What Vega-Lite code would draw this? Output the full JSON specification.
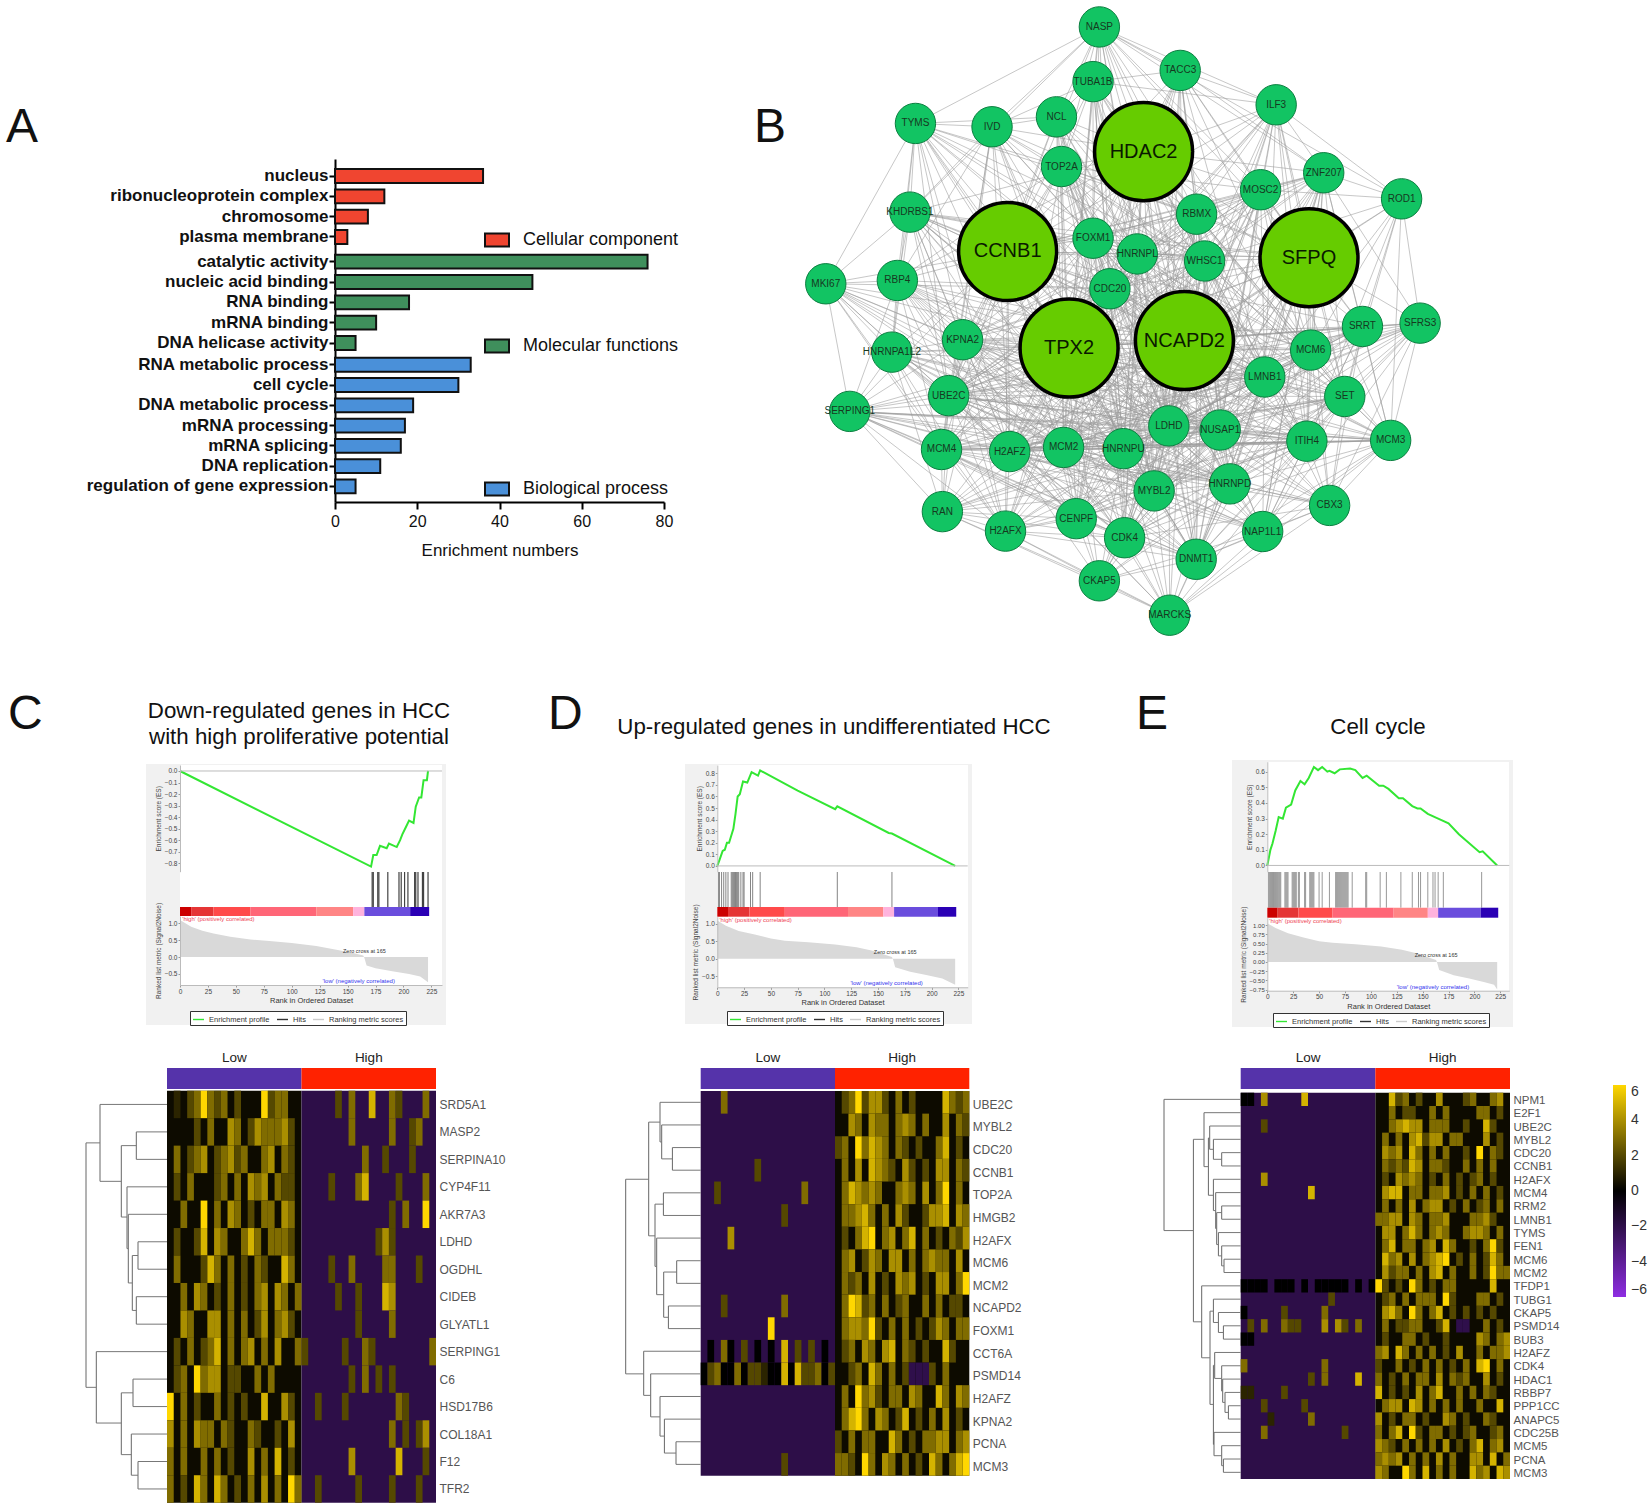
{"$schema":"https://vega.github.io/schema/vega-lite/v6.json","width":1650,"height":1511,"padding":0,"autosize":{"type":"none"},"background":"white","config":{"view":{"stroke":null},"font":"Liberation Sans"},"data":{"values":[{}]},
"resolve":{"scale":{"x":"independent","y":"independent","color":"independent"}},
"datasets":{
"cbar":[{"a":0,"b":10,"l":"1"},{"a":10,"b":30,"l":"2"},{"a":30,"b":63,"l":"3"},{"a":63,"b":122,"l":"4"},{"a":122,"b":155,"l":"5"},{"a":155,"b":165,"l":"6"},{"a":165,"b":206,"l":"7"},{"a":206,"b":223,"l":"8"}],
"nodes":[{"id":0,"n":"NASP","x":735,"y":65},{"id":1,"n":"TUBA1B","x":720,"y":197},{"id":2,"n":"TACC3","x":927,"y":170},{"id":3,"n":"ILF3","x":1155,"y":253},{"id":4,"n":"NCL","x":633,"y":282},{"id":5,"n":"IVD","x":480,"y":306},{"id":6,"n":"TYMS","x":298,"y":298},{"id":7,"n":"TOP2A","x":645,"y":402},{"id":8,"n":"HDAC2","x":840,"y":366,"hub":1},{"id":9,"n":"MOSC2","x":1118,"y":458},{"id":10,"n":"ZNF207","x":1268,"y":417},{"id":11,"n":"ROD1","x":1453,"y":480},{"id":12,"n":"KHDRBS1","x":285,"y":512},{"id":13,"n":"RBMX","x":966,"y":517},{"id":14,"n":"CCNB1","x":517,"y":607,"hub":1},{"id":15,"n":"FOXM1","x":720,"y":575},{"id":16,"n":"HNRNPL","x":825,"y":613},{"id":17,"n":"WHSC1","x":985,"y":630},{"id":18,"n":"SFPQ","x":1233,"y":622,"hub":1},{"id":19,"n":"MKI67","x":85,"y":685},{"id":20,"n":"RBP4","x":255,"y":677},{"id":21,"n":"CDC20","x":760,"y":697},{"id":22,"n":"TPX2","x":663,"y":840,"hub":1},{"id":23,"n":"NCAPD2","x":937,"y":822,"hub":1},{"id":24,"n":"SRRT","x":1360,"y":788},{"id":25,"n":"SFRS3","x":1497,"y":780},{"id":26,"n":"MCM6","x":1237,"y":845},{"id":27,"n":"KPNA2","x":410,"y":820},{"id":28,"n":"HNRNPA1L2","x":242,"y":850},{"id":29,"n":"LMNB1","x":1128,"y":910},{"id":30,"n":"UBE2C","x":377,"y":955},{"id":31,"n":"SET","x":1318,"y":957},{"id":32,"n":"SERPING1","x":142,"y":993},{"id":33,"n":"LDHD","x":900,"y":1028},{"id":34,"n":"NUSAP1","x":1022,"y":1038},{"id":35,"n":"MCM4","x":360,"y":1085},{"id":36,"n":"H2AFZ","x":522,"y":1090},{"id":37,"n":"MCM2","x":650,"y":1080},{"id":38,"n":"HNRNPU","x":792,"y":1083},{"id":39,"n":"ITIH4","x":1228,"y":1065},{"id":40,"n":"MCM3","x":1427,"y":1063},{"id":41,"n":"MYBL2","x":865,"y":1185},{"id":42,"n":"HNRNPD","x":1045,"y":1168},{"id":43,"n":"CBX3","x":1282,"y":1220},{"id":44,"n":"RAN","x":362,"y":1235},{"id":45,"n":"H2AFX","x":512,"y":1282},{"id":46,"n":"CENPF","x":680,"y":1252},{"id":47,"n":"CDK4","x":795,"y":1298},{"id":48,"n":"NAP1L1","x":1123,"y":1283},{"id":49,"n":"DNMT1","x":965,"y":1350},{"id":50,"n":"CKAP5","x":735,"y":1402},{"id":51,"n":"MARCKS","x":902,"y":1485}],
"edges":[{"s":0,"t":[1,2,3,4,6,7,8,13,14,15,16,17,21,22,23,9,33,18,10,11,26,5,12]},{"s":1,"t":[2,3,4,5,7,8,13,14,16,17,22,23,29,38,15,21,33,41,37]},{"s":2,"t":[3,8,9,10,13,16,17,18,23,26,29,34,14,15,21,22,33,41]},{"s":3,"t":[8,9,10,11,13,17,18,23,26,29,31,34,39,14,15,21,22,33,41,16]},{"s":4,"t":[5,6,7,8,14,15,21,22,23,30,37,13,16,17,33,38,41,29]},{"s":5,"t":[6,7,12,14,15,20,22,27,30,35,36,38,8,13,16,17,23,33,41]},{"s":6,"t":[7,12,14,19,20,27,28,15,21,22,30,36,37,13,16,17,23,33,38]},{"s":7,"t":[8,13,14,15,16,21,22,23,17,33,38,41,9,18,26,27,29,30,34,36,37,42,20]},{"s":8,"t":[13,14,15,16,17,18,21,22,23,26,29,33,34,37,38,41,42,9,10,27,30,31,36,39,46,47,49,12,20,24]},{"s":9,"t":[10,11,13,17,18,23,26,29,24,31,34,39,42,14,15,16,21,22,30,33,36,37,38,41,47,49]},{"s":10,"t":[11,13,17,18,24,25,26,29,31,33,39,40,14,15,16,21,22,23,34,38,41,42,48,49]},{"s":11,"t":[18,24,25,26,31,29,17,40,39,23]},{"s":12,"t":[14,15,19,20,22,27,28,30,21,33,36,16,17,23,29,34,37,38,41,42,18,45]},{"s":13,"t":[14,15,16,17,18,21,22,23,29,34,37,33,42,26,27,30,31,36,38,39,41,46,47,49]},{"s":14,"t":[15,16,19,20,21,22,23,27,28,30,32,33,35,36,37,38,41,46,17,18,26,29,34,39,42,44,45,47,49,24]},{"s":15,"t":[16,17,21,22,23,27,30,33,36,37,41,18,26,29,31,34,35,38,39,42,45,46,47]},{"s":16,"t":[17,18,21,22,23,29,33,34,36,38,42,26,27,30,31,35,37,39,41,45,46,47,49]},{"s":17,"t":[18,21,22,23,26,29,33,34,39,42,41,27,30,31,35,36,37,38,40,46,47,49]},{"s":18,"t":[23,24,25,26,29,31,33,34,39,40,42,43,48,41,21,22,27,30,36,37,38,47,49,46]},{"s":19,"t":[20,27,28,30,32,22,35,36,21,23,33,37,38,41,42,45]},{"s":20,"t":[22,27,28,30,32,35,36,37,21,33,23,29,34,38,41,42,46,47]},{"s":21,"t":[22,23,27,29,30,33,34,36,37,38,41,42,47,26,31,35,39,40,43,45,46,48,49]},{"s":22,"t":[23,27,28,30,32,33,34,35,36,37,38,39,41,42,44,45,46,47,49,26,29,31,40,43,48,50,51,24,25]},{"s":23,"t":[26,29,30,31,33,34,36,37,38,39,41,42,43,47,48,49,51,27,28,32,35,40,44,45,46,50,24,25]},{"s":24,"t":[25,26,29,31,39,40,34,43,27,30,33,36,37,38,41,42,48]},{"s":25,"t":[26,31,39,40,43,29,30,33,34,36,38,41,42,48]},{"s":26,"t":[29,31,33,34,39,40,42,43,48,27,30,35,36,37,38,41,46,47,49]},{"s":27,"t":[28,30,32,33,35,36,37,38,44,41,29,31,34,39,42,45,46,47,49,40]},{"s":28,"t":[30,32,35,36,37,44,45,38,33,34,39,41,42,46,47,29]},{"s":29,"t":[31,33,34,39,40,41,42,43,48,49,37,30,32,35,36,38,46,47]},{"s":30,"t":[32,33,35,36,37,38,41,44,45,46,47,40,31,34,39,42,48,49]},{"s":31,"t":[33,34,39,40,42,43,48,38,35,36,37,41,46,47,49]},{"s":32,"t":[35,36,37,38,44,45,46,33,39,34,41,42,47,49,40]},{"s":33,"t":[34,36,37,38,39,40,41,42,46,47,48,49,50,51,35,43,44,45]},{"s":34,"t":[37,38,39,40,41,42,43,47,48,49,51,36,35,44,45,46,50]},{"s":35,"t":[36,37,38,44,45,46,41,39,42,47,48,49,40]},{"s":36,"t":[37,38,41,44,45,46,47,49,50,42,39,40,43,48,51]},{"s":37,"t":[38,41,42,45,46,47,49,50,51,39,40,43,44,48]},{"s":38,"t":[39,41,42,46,47,48,49,50,51,40,43,44,45]},{"s":39,"t":[40,41,42,43,48,49,51,44,45,46,47,50]},{"s":40,"t":[42,43,48,49,51,47]},{"s":41,"t":[42,46,47,48,49,50,51,44]},{"s":42,"t":[43,47,48,49,50,51,45]},{"s":43,"t":[48,49,51,47]},{"s":44,"t":[45,46,47,50,51]},{"s":45,"t":[46,47,50,51,49]},{"s":46,"t":[47,49,50,51]},{"s":47,"t":[49,50,51]},{"s":48,"t":[49,50,51]},{"s":49,"t":[50,51]},{"s":50,"t":[51]}],
"tC":[{"h":81,"a":1.4,"b":10.3,"ha":67,"hb":70.7},{"h":67,"a":0,"b":2.8,"ha":0,"hb":45.7},{"h":45.7,"a":1.5,"b":4.1,"ha":30.7,"hb":40},{"h":30.7,"a":1,"b":2,"ha":0,"hb":0},{"h":40,"a":3,"b":5.25,"ha":0,"hb":38.7},{"h":38.7,"a":4,"b":6.5,"ha":0,"hb":34.7},{"h":34.7,"a":5.5,"b":7.5,"ha":29,"hb":30.7},{"h":29,"a":5,"b":6,"ha":0,"hb":0},{"h":30.7,"a":7,"b":8,"ha":0,"hb":0},{"h":70.7,"a":9,"b":11.6,"ha":0,"hb":45.7},{"h":45.7,"a":10.5,"b":12.75,"ha":34,"hb":35.7},{"h":34,"a":10,"b":11,"ha":0,"hb":0},{"h":35.7,"a":12,"b":13.5,"ha":0,"hb":29},{"h":29,"a":13,"b":14,"ha":0,"hb":0}],
"tD":[{"h":75,"a":3.4,"b":12,"ha":52,"hb":57},{"h":52,"a":0.875,"b":5.9,"ha":40.7,"hb":45.7},{"h":40.7,"a":0,"b":1.75,"ha":0,"hb":39},{"h":39,"a":1,"b":2.5,"ha":0,"hb":28.3},{"h":28.3,"a":2,"b":3,"ha":0,"hb":0},{"h":45.7,"a":4.5,"b":7.25,"ha":37.3,"hb":44},{"h":37.3,"a":4,"b":5,"ha":0,"hb":0},{"h":44,"a":6,"b":8.5,"ha":0,"hb":37},{"h":37,"a":7.5,"b":9.5,"ha":24,"hb":32.3},{"h":24,"a":7,"b":8,"ha":0,"hb":0},{"h":32.3,"a":9,"b":10,"ha":0,"hb":0},{"h":57,"a":11,"b":12.95,"ha":0,"hb":50},{"h":50,"a":12,"b":13.9,"ha":0,"hb":40.7},{"h":40.7,"a":13,"b":14.75,"ha":0,"hb":36.3},{"h":36.3,"a":14,"b":15.5,"ha":0,"hb":24.7},{"h":24.7,"a":15,"b":16,"ha":0,"hb":0}],
"tE":[{"h":76.7,"a":0,"b":9.85,"ha":0,"hb":47.3},{"h":47.3,"a":3,"b":16.7,"ha":36.7,"hb":39},{"h":36.7,"a":1,"b":5.05,"ha":0,"hb":32.3},{"h":32.3,"a":2.9,"b":7.2,"ha":31,"hb":27.3},{"h":31,"a":2,"b":3.75,"ha":0,"hb":27.3},{"h":27.3,"a":3,"b":4.5,"ha":0,"hb":19},{"h":19,"a":4,"b":5,"ha":0,"hb":0},{"h":27.3,"a":6,"b":8.35,"ha":0,"hb":25},{"h":25,"a":7,"b":9.7,"ha":0,"hb":24},{"h":24,"a":8.5,"b":10.9,"ha":19,"hb":22.3},{"h":19,"a":8,"b":9,"ha":0,"hb":0},{"h":22.3,"a":10,"b":11.75,"ha":0,"hb":19},{"h":19,"a":11,"b":12.5,"ha":0,"hb":16.7},{"h":16.7,"a":12,"b":13,"ha":0,"hb":0},{"h":39,"a":14,"b":19.4,"ha":0,"hb":30.7},{"h":30.7,"a":15.9,"b":22.9,"ha":27.3,"hb":27.3},{"h":27.3,"a":15,"b":16.75,"ha":0,"hb":22.3},{"h":22.3,"a":16,"b":17.5,"ha":0,"hb":17.3},{"h":17.3,"a":17,"b":18,"ha":0,"hb":0},{"h":27.3,"a":19.97,"b":25.9,"ha":26,"hb":26.7},{"h":26,"a":19,"b":20.95,"ha":0,"hb":19},{"h":19,"a":20,"b":21.9,"ha":0,"hb":18},{"h":18,"a":21,"b":22.75,"ha":0,"hb":15.7},{"h":15.7,"a":22,"b":23.5,"ha":0,"hb":12.3},{"h":12.3,"a":23,"b":24,"ha":0,"hb":0},{"h":26.7,"a":25,"b":26.75,"ha":0,"hb":19},{"h":19,"a":26,"b":27.5,"ha":0,"hb":17.3},{"h":17.3,"a":27,"b":28,"ha":0,"hb":0}],
"cC":[{"r":0,"c":1,"v":1},{"r":0,"c":3,"v":2},{"r":0,"c":4,"v":3},{"r":0,"c":5,"v":6},{"r":0,"c":6,"v":3},{"r":0,"c":7,"v":2},{"r":0,"c":8,"v":3},{"r":0,"c":10,"v":2},{"r":0,"c":14,"v":6},{"r":0,"c":15,"v":2},{"r":0,"c":16,"v":3},{"r":0,"c":17,"v":3},{"r":0,"c":25,"v":2},{"r":0,"c":27,"v":3},{"r":0,"c":30,"v":5},{"r":0,"c":33,"v":3},{"r":0,"c":34,"v":2},{"r":0,"c":38,"v":3},
{"r":1,"c":4,"v":2},{"r":1,"c":6,"v":3},{"r":1,"c":9,"v":4},{"r":1,"c":10,"v":3},{"r":1,"c":12,"v":2},{"r":1,"c":13,"v":4},{"r":1,"c":14,"v":3},{"r":1,"c":15,"v":3},{"r":1,"c":16,"v":3},{"r":1,"c":17,"v":4},{"r":1,"c":18,"v":2},{"r":1,"c":27,"v":3},{"r":1,"c":33,"v":3},{"r":1,"c":36,"v":2},{"r":1,"c":37,"v":3},
{"r":2,"c":1,"v":3},{"r":2,"c":3,"v":2},{"r":2,"c":4,"v":3},{"r":2,"c":5,"v":4},{"r":2,"c":7,"v":2},{"r":2,"c":8,"v":3},{"r":2,"c":9,"v":4},{"r":2,"c":10,"v":2},{"r":2,"c":11,"v":3},{"r":2,"c":14,"v":3},{"r":2,"c":15,"v":4},{"r":2,"c":17,"v":3},{"r":2,"c":18,"v":2},{"r":2,"c":29,"v":3},{"r":2,"c":32,"v":2},{"r":2,"c":36,"v":2},
{"r":3,"c":1,"v":2},{"r":3,"c":3,"v":3},{"r":3,"c":7,"v":2},{"r":3,"c":8,"v":3},{"r":3,"c":10,"v":3},{"r":3,"c":12,"v":4},{"r":3,"c":13,"v":3},{"r":3,"c":14,"v":4},{"r":3,"c":16,"v":3},{"r":3,"c":17,"v":2},{"r":3,"c":18,"v":2},{"r":3,"c":24,"v":2},{"r":3,"c":28,"v":3},{"r":3,"c":29,"v":5},{"r":3,"c":34,"v":2},{"r":3,"c":38,"v":3},
{"r":4,"c":2,"v":3},{"r":4,"c":5,"v":6},{"r":4,"c":7,"v":3},{"r":4,"c":9,"v":4},{"r":4,"c":10,"v":3},{"r":4,"c":12,"v":2},{"r":4,"c":14,"v":3},{"r":4,"c":15,"v":3},{"r":4,"c":17,"v":4},{"r":4,"c":18,"v":3},{"r":4,"c":33,"v":2},{"r":4,"c":35,"v":3},{"r":4,"c":38,"v":6},
{"r":5,"c":1,"v":2},{"r":5,"c":4,"v":2},{"r":5,"c":5,"v":5},{"r":5,"c":7,"v":4},{"r":5,"c":8,"v":3},{"r":5,"c":11,"v":3},{"r":5,"c":12,"v":5},{"r":5,"c":13,"v":3},{"r":5,"c":15,"v":3},{"r":5,"c":16,"v":3},{"r":5,"c":17,"v":3},{"r":5,"c":18,"v":2},{"r":5,"c":31,"v":2},{"r":5,"c":32,"v":4},{"r":5,"c":33,"v":2},
{"r":6,"c":1,"v":3},{"r":6,"c":5,"v":2},{"r":6,"c":6,"v":5},{"r":6,"c":7,"v":3},{"r":6,"c":9,"v":3},{"r":6,"c":11,"v":2},{"r":6,"c":13,"v":3},{"r":6,"c":14,"v":2},{"r":6,"c":17,"v":5},{"r":6,"c":18,"v":3},{"r":6,"c":24,"v":2},{"r":6,"c":27,"v":3},{"r":6,"c":32,"v":3},{"r":6,"c":33,"v":3},{"r":6,"c":37,"v":2},
{"r":7,"c":2,"v":3},{"r":7,"c":4,"v":4},{"r":7,"c":5,"v":3},{"r":7,"c":7,"v":2},{"r":7,"c":9,"v":3},{"r":7,"c":11,"v":2},{"r":7,"c":13,"v":3},{"r":7,"c":14,"v":4},{"r":7,"c":16,"v":4},{"r":7,"c":17,"v":3},{"r":7,"c":19,"v":3},{"r":7,"c":25,"v":2},{"r":7,"c":28,"v":2},{"r":7,"c":32,"v":5},{"r":7,"c":33,"v":4},
{"r":8,"c":2,"v":4},{"r":8,"c":3,"v":3},{"r":8,"c":6,"v":4},{"r":8,"c":7,"v":4},{"r":8,"c":9,"v":3},{"r":8,"c":11,"v":3},{"r":8,"c":13,"v":2},{"r":8,"c":14,"v":4},{"r":8,"c":16,"v":3},{"r":8,"c":17,"v":4},{"r":8,"c":18,"v":2},{"r":8,"c":28,"v":2},{"r":8,"c":33,"v":3},
{"r":9,"c":1,"v":2},{"r":9,"c":3,"v":3},{"r":9,"c":5,"v":2},{"r":9,"c":6,"v":3},{"r":9,"c":7,"v":5},{"r":9,"c":9,"v":3},{"r":9,"c":11,"v":3},{"r":9,"c":12,"v":4},{"r":9,"c":14,"v":3},{"r":9,"c":16,"v":4},{"r":9,"c":19,"v":3},{"r":9,"c":20,"v":2},{"r":9,"c":26,"v":2},{"r":9,"c":29,"v":3},{"r":9,"c":30,"v":2},{"r":9,"c":39,"v":3},
{"r":10,"c":1,"v":2},{"r":10,"c":2,"v":3},{"r":10,"c":4,"v":6},{"r":10,"c":5,"v":3},{"r":10,"c":6,"v":4},{"r":10,"c":7,"v":4},{"r":10,"c":9,"v":2},{"r":10,"c":10,"v":2},{"r":10,"c":13,"v":3},{"r":10,"c":15,"v":3},{"r":10,"c":27,"v":2},{"r":10,"c":29,"v":3},{"r":10,"c":31,"v":2},{"r":10,"c":33,"v":2},
{"r":11,"c":0,"v":6},{"r":11,"c":2,"v":3},{"r":11,"c":4,"v":2},{"r":11,"c":7,"v":3},{"r":11,"c":9,"v":2},{"r":11,"c":11,"v":2},{"r":11,"c":14,"v":5},{"r":11,"c":17,"v":4},{"r":11,"c":18,"v":2},{"r":11,"c":22,"v":2},{"r":11,"c":26,"v":2},{"r":11,"c":34,"v":3},{"r":11,"c":35,"v":2},
{"r":12,"c":0,"v":4},{"r":12,"c":2,"v":3},{"r":12,"c":4,"v":4},{"r":12,"c":5,"v":3},{"r":12,"c":6,"v":3},{"r":12,"c":8,"v":3},{"r":12,"c":9,"v":2},{"r":12,"c":12,"v":3},{"r":12,"c":13,"v":2},{"r":12,"c":16,"v":2},{"r":12,"c":18,"v":4},{"r":12,"c":33,"v":3},{"r":12,"c":35,"v":2},{"r":12,"c":37,"v":2},{"r":12,"c":38,"v":4},
{"r":13,"c":0,"v":3},{"r":13,"c":2,"v":3},{"r":13,"c":5,"v":3},{"r":13,"c":7,"v":3},{"r":13,"c":9,"v":2},{"r":13,"c":12,"v":4},{"r":13,"c":14,"v":3},{"r":13,"c":16,"v":5},{"r":13,"c":18,"v":2},{"r":13,"c":27,"v":4},{"r":13,"c":34,"v":5},{"r":13,"c":38,"v":2},
{"r":14,"c":0,"v":3},{"r":14,"c":2,"v":2},{"r":14,"c":4,"v":5},{"r":14,"c":5,"v":3},{"r":14,"c":7,"v":5},{"r":14,"c":8,"v":3},{"r":14,"c":10,"v":2},{"r":14,"c":12,"v":3},{"r":14,"c":14,"v":4},{"r":14,"c":16,"v":3},{"r":14,"c":18,"v":6},{"r":14,"c":19,"v":3},{"r":14,"c":22,"v":2},{"r":14,"c":28,"v":2},{"r":14,"c":33,"v":2},{"r":14,"c":37,"v":2}],
"cD":[{"r":0,"c":3,"v":3},{"r":0,"c":21,"v":2},{"r":0,"c":22,"v":3},{"r":0,"c":23,"v":6},{"r":0,"c":24,"v":2},{"r":0,"c":25,"v":4},{"r":0,"c":26,"v":4},{"r":0,"c":27,"v":2},{"r":0,"c":29,"v":3},{"r":0,"c":31,"v":2},{"r":0,"c":36,"v":5},{"r":0,"c":37,"v":3},{"r":0,"c":38,"v":2},{"r":0,"c":39,"v":3},
{"r":1,"c":22,"v":4},{"r":1,"c":23,"v":3},{"r":1,"c":25,"v":4},{"r":1,"c":26,"v":3},{"r":1,"c":27,"v":3},{"r":1,"c":29,"v":3},{"r":1,"c":30,"v":4},{"r":1,"c":31,"v":3},{"r":1,"c":33,"v":3},{"r":1,"c":36,"v":4},{"r":1,"c":38,"v":3},{"r":1,"c":39,"v":2},
{"r":2,"c":20,"v":2},{"r":2,"c":21,"v":3},{"r":2,"c":23,"v":6},{"r":2,"c":24,"v":3},{"r":2,"c":25,"v":5},{"r":2,"c":26,"v":4},{"r":2,"c":27,"v":3},{"r":2,"c":29,"v":3},{"r":2,"c":30,"v":2},{"r":2,"c":32,"v":2},{"r":2,"c":35,"v":3},{"r":2,"c":36,"v":5},{"r":2,"c":38,"v":2},
{"r":3,"c":8,"v":2},{"r":3,"c":21,"v":3},{"r":3,"c":23,"v":4},{"r":3,"c":25,"v":5},{"r":3,"c":26,"v":4},{"r":3,"c":27,"v":3},{"r":3,"c":28,"v":2},{"r":3,"c":30,"v":4},{"r":3,"c":31,"v":2},{"r":3,"c":33,"v":2},{"r":3,"c":35,"v":4},{"r":3,"c":36,"v":4},{"r":3,"c":38,"v":3},{"r":3,"c":39,"v":2},
{"r":4,"c":2,"v":2},{"r":4,"c":15,"v":3},{"r":4,"c":21,"v":3},{"r":4,"c":22,"v":5},{"r":4,"c":23,"v":4},{"r":4,"c":24,"v":3},{"r":4,"c":25,"v":4},{"r":4,"c":26,"v":3},{"r":4,"c":29,"v":3},{"r":4,"c":30,"v":4},{"r":4,"c":31,"v":3},{"r":4,"c":33,"v":4},{"r":4,"c":35,"v":3},{"r":4,"c":36,"v":6},{"r":4,"c":38,"v":3},
{"r":5,"c":12,"v":2},{"r":5,"c":21,"v":3},{"r":5,"c":22,"v":3},{"r":5,"c":23,"v":4},{"r":5,"c":24,"v":5},{"r":5,"c":25,"v":3},{"r":5,"c":27,"v":3},{"r":5,"c":29,"v":4},{"r":5,"c":30,"v":2},{"r":5,"c":33,"v":2},{"r":5,"c":34,"v":4},{"r":5,"c":35,"v":4},{"r":5,"c":36,"v":5},{"r":5,"c":38,"v":4},{"r":5,"c":39,"v":3},
{"r":6,"c":4,"v":4},{"r":6,"c":21,"v":2},{"r":6,"c":23,"v":3},{"r":6,"c":24,"v":5},{"r":6,"c":25,"v":6},{"r":6,"c":27,"v":3},{"r":6,"c":28,"v":4},{"r":6,"c":30,"v":3},{"r":6,"c":31,"v":5},{"r":6,"c":33,"v":3},{"r":6,"c":35,"v":2},{"r":6,"c":37,"v":3},{"r":6,"c":38,"v":2},{"r":6,"c":39,"v":4},
{"r":7,"c":21,"v":3},{"r":7,"c":22,"v":4},{"r":7,"c":24,"v":2},{"r":7,"c":25,"v":4},{"r":7,"c":26,"v":3},{"r":7,"c":28,"v":4},{"r":7,"c":29,"v":4},{"r":7,"c":31,"v":3},{"r":7,"c":33,"v":3},{"r":7,"c":34,"v":4},{"r":7,"c":35,"v":3},{"r":7,"c":36,"v":3},{"r":7,"c":38,"v":4},
{"r":8,"c":21,"v":3},{"r":8,"c":22,"v":2},{"r":8,"c":23,"v":3},{"r":8,"c":25,"v":4},{"r":8,"c":27,"v":2},{"r":8,"c":29,"v":4},{"r":8,"c":30,"v":3},{"r":8,"c":31,"v":4},{"r":8,"c":33,"v":2},{"r":8,"c":35,"v":4},{"r":8,"c":36,"v":4},{"r":8,"c":38,"v":3},{"r":8,"c":39,"v":6},
{"r":9,"c":3,"v":2},{"r":9,"c":12,"v":3},{"r":9,"c":21,"v":3},{"r":9,"c":22,"v":6},{"r":9,"c":23,"v":5},{"r":9,"c":24,"v":2},{"r":9,"c":25,"v":3},{"r":9,"c":27,"v":3},{"r":9,"c":29,"v":2},{"r":9,"c":30,"v":3},{"r":9,"c":33,"v":3},{"r":9,"c":35,"v":3},{"r":9,"c":37,"v":2},{"r":9,"c":38,"v":2},
{"r":10,"c":10,"v":6},{"r":10,"c":21,"v":3},{"r":10,"c":22,"v":4},{"r":10,"c":23,"v":4},{"r":10,"c":24,"v":3},{"r":10,"c":25,"v":6},{"r":10,"c":26,"v":2},{"r":10,"c":28,"v":3},{"r":10,"c":30,"v":3},{"r":10,"c":32,"v":2},{"r":10,"c":34,"v":2},{"r":10,"c":35,"v":4},{"r":10,"c":36,"v":3},{"r":10,"c":38,"v":3},{"r":10,"c":39,"v":3},
{"r":11,"c":1,"v":0},{"r":11,"c":3,"v":3},{"r":11,"c":4,"v":0},{"r":11,"c":6,"v":2},{"r":11,"c":8,"v":0},{"r":11,"c":10,"v":0},{"r":11,"c":12,"v":5},{"r":11,"c":14,"v":2},{"r":11,"c":16,"v":2},{"r":11,"c":18,"v":0},{"r":11,"c":21,"v":2},{"r":11,"c":22,"v":3},{"r":11,"c":24,"v":4},{"r":11,"c":25,"v":3},{"r":11,"c":27,"v":4},{"r":11,"c":28,"v":5},{"r":11,"c":30,"v":3},{"r":11,"c":31,"v":2},{"r":11,"c":33,"v":2},{"r":11,"c":36,"v":5},{"r":11,"c":37,"v":2},
{"r":12,"c":0,"v":0},{"r":12,"c":1,"v":2},{"r":12,"c":2,"v":3},{"r":12,"c":3,"v":0},{"r":12,"c":4,"v":0},{"r":12,"c":5,"v":3},{"r":12,"c":6,"v":0},{"r":12,"c":7,"v":2},{"r":12,"c":8,"v":2},{"r":12,"c":9,"v":1},{"r":12,"c":10,"v":0},{"r":12,"c":11,"v":0},{"r":12,"c":12,"v":5},{"r":12,"c":13,"v":0},{"r":12,"c":14,"v":5},{"r":12,"c":15,"v":2},{"r":12,"c":16,"v":2},{"r":12,"c":17,"v":3},{"r":12,"c":18,"v":0},{"r":12,"c":19,"v":2},{"r":12,"c":22,"v":2},{"r":12,"c":23,"v":3},{"r":12,"c":25,"v":5},{"r":12,"c":26,"v":3},{"r":12,"c":28,"v":3},{"r":12,"c":30,"v":2},{"r":12,"c":31,"v":-2},{"r":12,"c":32,"v":-2},{"r":12,"c":33,"v":-2},{"r":12,"c":34,"v":2},{"r":12,"c":36,"v":3},
{"r":13,"c":21,"v":3},{"r":13,"c":23,"v":6},{"r":13,"c":24,"v":3},{"r":13,"c":25,"v":4},{"r":13,"c":26,"v":2},{"r":13,"c":28,"v":3},{"r":13,"c":29,"v":3},{"r":13,"c":31,"v":4},{"r":13,"c":32,"v":3},{"r":13,"c":35,"v":5},{"r":13,"c":36,"v":3},{"r":13,"c":38,"v":4},{"r":13,"c":39,"v":3},
{"r":14,"c":21,"v":3},{"r":14,"c":22,"v":5},{"r":14,"c":23,"v":6},{"r":14,"c":24,"v":3},{"r":14,"c":26,"v":4},{"r":14,"c":27,"v":3},{"r":14,"c":29,"v":2},{"r":14,"c":30,"v":5},{"r":14,"c":32,"v":2},{"r":14,"c":34,"v":3},{"r":14,"c":36,"v":4},{"r":14,"c":38,"v":2},
{"r":15,"c":20,"v":2},{"r":15,"c":22,"v":3},{"r":15,"c":24,"v":3},{"r":15,"c":25,"v":3},{"r":15,"c":28,"v":5},{"r":15,"c":29,"v":3},{"r":15,"c":31,"v":2},{"r":15,"c":33,"v":3},{"r":15,"c":34,"v":3},{"r":15,"c":35,"v":4},{"r":15,"c":36,"v":4},{"r":15,"c":38,"v":3},{"r":15,"c":39,"v":4},
{"r":16,"c":12,"v":2},{"r":16,"c":20,"v":3},{"r":16,"c":21,"v":3},{"r":16,"c":22,"v":2},{"r":16,"c":24,"v":6},{"r":16,"c":25,"v":3},{"r":16,"c":27,"v":4},{"r":16,"c":28,"v":3},{"r":16,"c":30,"v":3},{"r":16,"c":32,"v":2},{"r":16,"c":34,"v":5},{"r":16,"c":35,"v":3},{"r":16,"c":37,"v":3},{"r":16,"c":38,"v":5},{"r":16,"c":39,"v":6}],
"cE":[{"r":0,"c":0,"v":0},{"r":0,"c":1,"v":0},{"r":0,"c":3,"v":4},{"r":0,"c":9,"v":5},{"r":0,"c":22,"v":5},{"r":0,"c":23,"v":2},{"r":0,"c":24,"v":3},{"r":0,"c":26,"v":2},{"r":0,"c":29,"v":4},{"r":0,"c":33,"v":2},{"r":0,"c":34,"v":3},{"r":0,"c":37,"v":3},{"r":0,"c":38,"v":4},
{"r":1,"c":22,"v":3},{"r":1,"c":24,"v":2},{"r":1,"c":25,"v":2},{"r":1,"c":28,"v":3},{"r":1,"c":30,"v":3},{"r":1,"c":35,"v":3},{"r":1,"c":36,"v":3},{"r":1,"c":38,"v":2},
{"r":2,"c":3,"v":2},{"r":2,"c":22,"v":3},{"r":2,"c":23,"v":4},{"r":2,"c":24,"v":5},{"r":2,"c":25,"v":4},{"r":2,"c":26,"v":4},{"r":2,"c":28,"v":3},{"r":2,"c":29,"v":3},{"r":2,"c":30,"v":3},{"r":2,"c":33,"v":2},{"r":2,"c":36,"v":5},{"r":2,"c":37,"v":2},
{"r":3,"c":21,"v":3},{"r":3,"c":23,"v":3},{"r":3,"c":25,"v":4},{"r":3,"c":26,"v":5},{"r":3,"c":27,"v":2},{"r":3,"c":28,"v":4},{"r":3,"c":29,"v":4},{"r":3,"c":31,"v":3},{"r":3,"c":32,"v":3},{"r":3,"c":36,"v":4},{"r":3,"c":38,"v":2},
{"r":4,"c":21,"v":4},{"r":4,"c":22,"v":3},{"r":4,"c":23,"v":4},{"r":4,"c":25,"v":5},{"r":4,"c":26,"v":3},{"r":4,"c":28,"v":3},{"r":4,"c":30,"v":3},{"r":4,"c":33,"v":2},{"r":4,"c":35,"v":6},{"r":4,"c":37,"v":3},{"r":4,"c":38,"v":2},
{"r":5,"c":21,"v":3},{"r":5,"c":22,"v":2},{"r":5,"c":23,"v":3},{"r":5,"c":24,"v":2},{"r":5,"c":25,"v":5},{"r":5,"c":26,"v":4},{"r":5,"c":28,"v":3},{"r":5,"c":29,"v":3},{"r":5,"c":30,"v":2},{"r":5,"c":33,"v":3},{"r":5,"c":35,"v":3},{"r":5,"c":37,"v":3},
{"r":6,"c":3,"v":4},{"r":6,"c":21,"v":2},{"r":6,"c":23,"v":4},{"r":6,"c":24,"v":3},{"r":6,"c":25,"v":4},{"r":6,"c":26,"v":3},{"r":6,"c":28,"v":2},{"r":6,"c":30,"v":3},{"r":6,"c":32,"v":2},{"r":6,"c":34,"v":2},{"r":6,"c":35,"v":3},{"r":6,"c":37,"v":2},
{"r":7,"c":10,"v":5},{"r":7,"c":21,"v":4},{"r":7,"c":22,"v":5},{"r":7,"c":23,"v":5},{"r":7,"c":25,"v":3},{"r":7,"c":26,"v":3},{"r":7,"c":28,"v":3},{"r":7,"c":29,"v":3},{"r":7,"c":30,"v":4},{"r":7,"c":32,"v":2},{"r":7,"c":34,"v":3},{"r":7,"c":36,"v":3},{"r":7,"c":38,"v":2},
{"r":8,"c":21,"v":3},{"r":8,"c":23,"v":3},{"r":8,"c":25,"v":4},{"r":8,"c":27,"v":3},{"r":8,"c":28,"v":4},{"r":8,"c":29,"v":4},{"r":8,"c":31,"v":2},{"r":8,"c":33,"v":3},{"r":8,"c":35,"v":2},{"r":8,"c":36,"v":3},{"r":8,"c":38,"v":3},
{"r":9,"c":20,"v":3},{"r":9,"c":21,"v":3},{"r":9,"c":22,"v":4},{"r":9,"c":23,"v":4},{"r":9,"c":25,"v":4},{"r":9,"c":26,"v":3},{"r":9,"c":28,"v":3},{"r":9,"c":29,"v":3},{"r":9,"c":30,"v":4},{"r":9,"c":34,"v":3},{"r":9,"c":35,"v":3},{"r":9,"c":36,"v":4},{"r":9,"c":37,"v":2},
{"r":10,"c":21,"v":4},{"r":10,"c":22,"v":4},{"r":10,"c":24,"v":3},{"r":10,"c":25,"v":5},{"r":10,"c":26,"v":3},{"r":10,"c":28,"v":3},{"r":10,"c":29,"v":4},{"r":10,"c":30,"v":3},{"r":10,"c":33,"v":3},{"r":10,"c":34,"v":4},{"r":10,"c":35,"v":4},{"r":10,"c":36,"v":3},{"r":10,"c":38,"v":3},
{"r":11,"c":21,"v":3},{"r":11,"c":22,"v":5},{"r":11,"c":24,"v":3},{"r":11,"c":25,"v":3},{"r":11,"c":27,"v":3},{"r":11,"c":28,"v":4},{"r":11,"c":30,"v":5},{"r":11,"c":31,"v":3},{"r":11,"c":34,"v":2},{"r":11,"c":36,"v":3},{"r":11,"c":37,"v":6},{"r":11,"c":38,"v":2},
{"r":12,"c":21,"v":5},{"r":12,"c":22,"v":3},{"r":12,"c":23,"v":4},{"r":12,"c":25,"v":4},{"r":12,"c":27,"v":3},{"r":12,"c":28,"v":4},{"r":12,"c":29,"v":5},{"r":12,"c":30,"v":6},{"r":12,"c":32,"v":2},{"r":12,"c":34,"v":3},{"r":12,"c":36,"v":2},{"r":12,"c":37,"v":5},{"r":12,"c":38,"v":3},
{"r":13,"c":21,"v":4},{"r":13,"c":22,"v":2},{"r":13,"c":23,"v":3},{"r":13,"c":24,"v":3},{"r":13,"c":26,"v":3},{"r":13,"c":28,"v":4},{"r":13,"c":29,"v":5},{"r":13,"c":31,"v":3},{"r":13,"c":34,"v":3},{"r":13,"c":36,"v":2},{"r":13,"c":37,"v":6},{"r":13,"c":38,"v":3},{"r":13,"c":39,"v":3},
{"r":14,"c":0,"v":0},{"r":14,"c":1,"v":0},{"r":14,"c":2,"v":0},{"r":14,"c":3,"v":0},{"r":14,"c":5,"v":0},{"r":14,"c":6,"v":0},{"r":14,"c":7,"v":0},{"r":14,"c":9,"v":0},{"r":14,"c":11,"v":0},{"r":14,"c":12,"v":0},{"r":14,"c":13,"v":0},{"r":14,"c":14,"v":0},{"r":14,"c":15,"v":0},{"r":14,"c":17,"v":0},{"r":14,"c":19,"v":0},{"r":14,"c":20,"v":6},{"r":14,"c":21,"v":2},{"r":14,"c":23,"v":2},{"r":14,"c":25,"v":6},{"r":14,"c":26,"v":3},{"r":14,"c":28,"v":2},{"r":14,"c":30,"v":3},{"r":14,"c":31,"v":3},{"r":14,"c":37,"v":5},
{"r":15,"c":13,"v":2},{"r":15,"c":21,"v":2},{"r":15,"c":22,"v":3},{"r":15,"c":24,"v":3},{"r":15,"c":26,"v":3},{"r":15,"c":27,"v":3},{"r":15,"c":28,"v":3},{"r":15,"c":30,"v":6},{"r":15,"c":31,"v":2},{"r":15,"c":35,"v":3},{"r":15,"c":36,"v":3},{"r":15,"c":38,"v":2},
{"r":16,"c":0,"v":0},{"r":16,"c":6,"v":2},{"r":16,"c":12,"v":3},{"r":16,"c":21,"v":4},{"r":16,"c":22,"v":5},{"r":16,"c":23,"v":3},{"r":16,"c":25,"v":6},{"r":16,"c":26,"v":3},{"r":16,"c":28,"v":3},{"r":16,"c":29,"v":5},{"r":16,"c":31,"v":2},{"r":16,"c":33,"v":2},{"r":16,"c":35,"v":2},{"r":16,"c":37,"v":2},
{"r":17,"c":1,"v":2},{"r":17,"c":3,"v":3},{"r":17,"c":6,"v":3},{"r":17,"c":7,"v":2},{"r":17,"c":8,"v":2},{"r":17,"c":12,"v":4},{"r":17,"c":14,"v":4},{"r":17,"c":15,"v":2},{"r":17,"c":17,"v":3},{"r":17,"c":21,"v":3},{"r":17,"c":23,"v":2},{"r":17,"c":24,"v":2},{"r":17,"c":25,"v":3},{"r":17,"c":26,"v":3},{"r":17,"c":29,"v":2},{"r":17,"c":30,"v":5},{"r":17,"c":32,"v":-2},{"r":17,"c":33,"v":-2},{"r":17,"c":36,"v":3},{"r":17,"c":38,"v":2},
{"r":18,"c":0,"v":0},{"r":18,"c":1,"v":0},{"r":18,"c":21,"v":2},{"r":18,"c":24,"v":3},{"r":18,"c":25,"v":3},{"r":18,"c":27,"v":2},{"r":18,"c":30,"v":2},{"r":18,"c":35,"v":4},{"r":18,"c":36,"v":3},{"r":18,"c":38,"v":3},{"r":18,"c":39,"v":4},
{"r":19,"c":20,"v":3},{"r":19,"c":21,"v":4},{"r":19,"c":23,"v":5},{"r":19,"c":24,"v":3},{"r":19,"c":26,"v":3},{"r":19,"c":28,"v":3},{"r":19,"c":30,"v":2},{"r":19,"c":32,"v":4},{"r":19,"c":35,"v":3},{"r":19,"c":37,"v":3},{"r":19,"c":38,"v":3},{"r":19,"c":39,"v":4},
{"r":20,"c":0,"v":3},{"r":20,"c":12,"v":3},{"r":20,"c":20,"v":2},{"r":20,"c":23,"v":3},{"r":20,"c":25,"v":2},{"r":20,"c":27,"v":3},{"r":20,"c":29,"v":3},{"r":20,"c":31,"v":2},{"r":20,"c":33,"v":3},{"r":20,"c":35,"v":5},{"r":20,"c":36,"v":6},{"r":20,"c":38,"v":3},
{"r":21,"c":10,"v":2},{"r":21,"c":12,"v":3},{"r":21,"c":17,"v":5},{"r":21,"c":20,"v":3},{"r":21,"c":22,"v":2},{"r":21,"c":24,"v":3},{"r":21,"c":26,"v":3},{"r":21,"c":27,"v":3},{"r":21,"c":29,"v":4},{"r":21,"c":31,"v":3},{"r":21,"c":32,"v":2},{"r":21,"c":33,"v":3},{"r":21,"c":36,"v":4},{"r":21,"c":38,"v":2},
{"r":22,"c":0,"v":1},{"r":22,"c":1,"v":1},{"r":22,"c":6,"v":2},{"r":22,"c":20,"v":5},{"r":22,"c":22,"v":2},{"r":22,"c":24,"v":2},{"r":22,"c":26,"v":4},{"r":22,"c":28,"v":3},{"r":22,"c":29,"v":5},{"r":22,"c":32,"v":3},{"r":22,"c":34,"v":3},{"r":22,"c":36,"v":3},{"r":22,"c":37,"v":2},
{"r":23,"c":3,"v":2},{"r":23,"c":9,"v":2},{"r":23,"c":21,"v":3},{"r":23,"c":22,"v":4},{"r":23,"c":23,"v":4},{"r":23,"c":25,"v":5},{"r":23,"c":26,"v":4},{"r":23,"c":28,"v":3},{"r":23,"c":30,"v":3},{"r":23,"c":32,"v":3},{"r":23,"c":35,"v":3},{"r":23,"c":38,"v":5},
{"r":24,"c":4,"v":1},{"r":24,"c":10,"v":3},{"r":24,"c":20,"v":4},{"r":24,"c":22,"v":2},{"r":24,"c":24,"v":3},{"r":24,"c":25,"v":3},{"r":24,"c":27,"v":2},{"r":24,"c":30,"v":4},{"r":24,"c":31,"v":3},{"r":24,"c":33,"v":2},{"r":24,"c":36,"v":3},{"r":24,"c":37,"v":2},
{"r":25,"c":3,"v":3},{"r":25,"c":15,"v":2},{"r":25,"c":20,"v":3},{"r":25,"c":22,"v":3},{"r":25,"c":23,"v":5},{"r":25,"c":25,"v":6},{"r":25,"c":26,"v":2},{"r":25,"c":28,"v":3},{"r":25,"c":29,"v":3},{"r":25,"c":31,"v":2},{"r":25,"c":33,"v":2},{"r":25,"c":34,"v":3},{"r":25,"c":37,"v":2},{"r":25,"c":38,"v":3},
{"r":26,"c":20,"v":4},{"r":26,"c":21,"v":3},{"r":26,"c":22,"v":2},{"r":26,"c":24,"v":3},{"r":26,"c":26,"v":3},{"r":26,"c":28,"v":3},{"r":26,"c":30,"v":4},{"r":26,"c":32,"v":2},{"r":26,"c":34,"v":3},{"r":26,"c":35,"v":5},{"r":26,"c":37,"v":3},{"r":26,"c":38,"v":4},
{"r":27,"c":20,"v":3},{"r":27,"c":21,"v":4},{"r":27,"c":22,"v":3},{"r":27,"c":23,"v":4},{"r":27,"c":25,"v":3},{"r":27,"c":27,"v":3},{"r":27,"c":29,"v":4},{"r":27,"c":31,"v":3},{"r":27,"c":34,"v":4},{"r":27,"c":35,"v":4},{"r":27,"c":37,"v":5},{"r":27,"c":39,"v":3},
{"r":28,"c":20,"v":4},{"r":28,"c":21,"v":3},{"r":28,"c":24,"v":6},{"r":28,"c":25,"v":3},{"r":28,"c":27,"v":5},{"r":28,"c":29,"v":3},{"r":28,"c":31,"v":3},{"r":28,"c":34,"v":5},{"r":28,"c":35,"v":3},{"r":28,"c":36,"v":4},{"r":28,"c":38,"v":5},{"r":28,"c":39,"v":4}]
},
"layer":[
{"mark":{"type":"text","text":"A","x":6,"y":142,"align":"left","baseline":"alphabetic","fontSize":48,"color":"#111"}},
{"mark":{"type":"text","text":"B","x":754,"y":142,"align":"left","baseline":"alphabetic","fontSize":48,"color":"#111"}},
{"mark":{"type":"text","text":"C","x":8,"y":729,"align":"left","baseline":"alphabetic","fontSize":48,"color":"#111"}},
{"mark":{"type":"text","text":"D","x":548,"y":729,"align":"left","baseline":"alphabetic","fontSize":48,"color":"#111"}},
{"mark":{"type":"text","text":"E","x":1136,"y":729,"align":"left","baseline":"alphabetic","fontSize":48,"color":"#111"}},
{"mark":{"type":"text","text":"Down-regulated genes in HCC","x":299,"y":711,"fontSize":22.3,"color":"#111"}},
{"mark":{"type":"text","text":"with high proliferative potential","x":299,"y":737,"fontSize":22.3,"color":"#111"}},
{"mark":{"type":"text","text":"Up-regulated genes in undifferentiated HCC","x":834,"y":727,"fontSize":22.3,"color":"#111"}},
{"mark":{"type":"text","text":"Cell cycle","x":1378,"y":727,"fontSize":22.3,"color":"#111"}},

{"data":{"values":[{"n":0,"u":0}]},"mark":{"type":"point","opacity":0},"encoding":{"x":{"field":"n","type":"quantitative","scale":{"domain":[0,80],"range":[335,664],"nice":false},"axis":{"orient":"bottom","offset":-1009,"values":[0,20,40,60,80],"labelFlush":false,"title":"Enrichment numbers","titleFontSize":17,"titleFontWeight":"normal","titleColor":"#111","titlePadding":13,"labelFontSize":16,"labelColor":"#111","labelPadding":4,"tickColor":"#000","domainColor":"#000","domainWidth":2,"tickWidth":2,"tickSize":7,"grid":false}},"y":{"field":"u","type":"quantitative","scale":{"domain":[0,1],"range":[502,159],"nice":false},"axis":{"orient":"left","offset":-335,"labels":false,"ticks":false,"title":null,"domainColor":"#000","domainWidth":2,"grid":false}}}},
{"data":{"values":[{"term":"nucleus","n":36,"cat":"Cellular component"},{"term":"ribonucleoprotein complex","n":12,"cat":"Cellular component"},{"term":"chromosome","n":8,"cat":"Cellular component"},{"term":"plasma membrane","n":3,"cat":"Cellular component"}]},"mark":{"type":"bar","stroke":"#111","strokeWidth":2},"encoding":{"x":{"field":"n","type":"quantitative","scale":{"domain":[0,80],"range":[335,664],"nice":false},"axis":null},"y":{"field":"term","type":"nominal","sort":null,"scale":{"range":[165.85,247.15],"paddingInner":0.32,"paddingOuter":0.16},"axis":{"orient":"left","offset":-335,"title":null,"domain":false,"tickColor":"#000","tickWidth":2,"tickSize":6,"labelFontSize":17,"labelFontWeight":"bold","labelColor":"#111","labelPadding":1,"labelLimit":320,"grid":false}},"color":{"field":"cat","type":"nominal","scale":{"range":["#f04530"]},"legend":{"orient":"none","legendX":484,"legendY":227,"title":null,"symbolType":"M-1,-0.55H1V0.55H-1Z","symbolSize":576,"symbolStrokeColor":"#111","symbolStrokeWidth":2,"labelFontSize":18,"labelColor":"#111","labelOffset":13,"labelLimit":300}}}},
{"data":{"values":[{"term":"catalytic activity","n":76,"cat":"Molecular functions"},{"term":"nucleic acid binding","n":48,"cat":"Molecular functions"},{"term":"RNA binding","n":18,"cat":"Molecular functions"},{"term":"mRNA binding","n":10,"cat":"Molecular functions"},{"term":"DNA helicase activity","n":5,"cat":"Molecular functions"}]},"mark":{"type":"bar","stroke":"#111","strokeWidth":2},"encoding":{"x":{"field":"n","type":"quantitative","scale":{"domain":[0,80],"range":[335,664],"nice":false},"axis":null},"y":{"field":"term","type":"nominal","sort":null,"scale":{"range":[251.5,353.2],"paddingInner":0.32,"paddingOuter":0.16},"axis":{"orient":"left","offset":-335,"title":null,"domain":false,"tickColor":"#000","tickWidth":2,"tickSize":6,"labelFontSize":17,"labelFontWeight":"bold","labelColor":"#111","labelPadding":1,"labelLimit":320,"grid":false}},"color":{"field":"cat","type":"nominal","scale":{"range":["#3f8f5c"]},"legend":{"orient":"none","legendX":484,"legendY":333,"title":null,"symbolType":"M-1,-0.55H1V0.55H-1Z","symbolSize":576,"symbolStrokeColor":"#111","symbolStrokeWidth":2,"labelFontSize":18,"labelColor":"#111","labelOffset":13,"labelLimit":300}}}},
{"data":{"values":[{"term":"RNA metabolic process","n":33,"cat":"Biological process"},{"term":"cell cycle","n":30,"cat":"Biological process"},{"term":"DNA metabolic process","n":19,"cat":"Biological process"},{"term":"mRNA processing","n":17,"cat":"Biological process"},{"term":"mRNA splicing","n":16,"cat":"Biological process"},{"term":"DNA replication","n":11,"cat":"Biological process"},{"term":"regulation of gene expression","n":5,"cat":"Biological process"}]},"mark":{"type":"bar","stroke":"#111","strokeWidth":2},"encoding":{"x":{"field":"n","type":"quantitative","scale":{"domain":[0,80],"range":[335,664],"nice":false},"axis":null},"y":{"field":"term","type":"nominal","sort":null,"scale":{"range":[354.6,496.5],"paddingInner":0.32,"paddingOuter":0.16},"axis":{"orient":"left","offset":-335,"title":null,"domain":false,"tickColor":"#000","tickWidth":2,"tickSize":6,"labelFontSize":17,"labelFontWeight":"bold","labelColor":"#111","labelPadding":1,"labelLimit":320,"grid":false}},"color":{"field":"cat","type":"nominal","scale":{"range":["#4a90d9"]},"legend":{"orient":"none","legendX":484,"legendY":476,"title":null,"symbolType":"M-1,-0.55H1V0.55H-1Z","symbolSize":576,"symbolStrokeColor":"#111","symbolStrokeWidth":2,"labelFontSize":18,"labelColor":"#111","labelOffset":13,"labelLimit":300}}}},

{"layer":[
{"data":{"name":"edges"},"transform":[{"flatten":["t"]},{"lookup":"s","from":{"data":{"name":"nodes"},"key":"id","fields":["x","y"]},"as":["x1","y1"]},{"lookup":"t","from":{"data":{"name":"nodes"},"key":"id","fields":["x","y"]},"as":["xe","ye"]}],"mark":{"type":"rule","color":"#9a9a9a","strokeWidth":0.7,"opacity":0.8},"encoding":{"x":{"field":"x1","type":"quantitative","scale":{"domain":[0,1568],"range":[790,1450],"nice":false,"zero":false},"axis":null},"y":{"field":"y1","type":"quantitative","scale":{"domain":[0,1569],"range":[0,650],"nice":false,"zero":false},"axis":null},"x2":{"field":"xe"},"y2":{"field":"ye"}}},
{"data":{"name":"nodes"},"mark":{"type":"point","filled":true,"opacity":1},"encoding":{"x":{"field":"x","type":"quantitative"},"y":{"field":"y","type":"quantitative"},"size":{"condition":{"test":"datum.hub","value":9600},"value":1632},"color":{"condition":{"test":"datum.hub","value":"#66cc00"},"value":"#12c463"},"stroke":{"condition":{"test":"datum.hub","value":"#000000"},"value":"#0b7f40"},"strokeWidth":{"condition":{"test":"datum.hub","value":3.5},"value":1}}},
{"data":{"name":"nodes"},"transform":[{"filter":"!datum.hub"}],"mark":{"type":"text","fontSize":10,"color":"#16391f"},"encoding":{"x":{"field":"x","type":"quantitative"},"y":{"field":"y","type":"quantitative"},"text":{"field":"n"}}},
{"data":{"name":"nodes"},"transform":[{"filter":"datum.hub"}],"mark":{"type":"text","fontSize":20,"color":"#0a1a00"},"encoding":{"x":{"field":"x","type":"quantitative"},"y":{"field":"y","type":"quantitative"},"text":{"field":"n"}}}
]},

{"mark":{"type":"rect","x":146,"x2":446,"y":764,"y2":1025,"color":"#f1f1f1"}},
{"mark":{"type":"rect","x":180,"x2":442,"y":765,"y2":985,"color":"#ffffff"}},
{"mark":{"type":"rect","x":685,"x2":972,"y":764,"y2":1024,"color":"#f1f1f1"}},
{"mark":{"type":"rect","x":717,"x2":968,"y":765,"y2":987,"color":"#ffffff"}},
{"mark":{"type":"rect","x":1232,"x2":1513,"y":760,"y2":1027,"color":"#f1f1f1"}},
{"mark":{"type":"rect","x":1267,"x2":1509,"y":762,"y2":991,"color":"#ffffff"}},

{"layer":[
{"data":{"values":[{"r":0,"es":0},{"r":171,"es":-0.83},{"r":173,"es":-0.73},{"r":176,"es":-0.73},{"r":179,"es":-0.65},{"r":185,"es":-0.67},{"r":187,"es":-0.63},{"r":194,"es":-0.66},{"r":197,"es":-0.6},{"r":199,"es":-0.55},{"r":202,"es":-0.49},{"r":205,"es":-0.43},{"r":209,"es":-0.45},{"r":211,"es":-0.31},{"r":214,"es":-0.23},{"r":216,"es":-0.23},{"r":218,"es":-0.08},{"r":221,"es":-0.08},{"r":222,"es":0}]},"mark":{"type":"line","strokeWidth":2},"encoding":{"x":{"field":"r","type":"quantitative","scale":{"domain":[0,234.5],"range":[180,442],"nice":false,"zero":false},"axis":null},"y":{"field":"es","type":"quantitative","scale":{"domain":[-0.874,0.052],"range":[871.7,765],"nice":false,"zero":false},"axis":{"orient":"left","offset":-180,"zindex":1,"values":[0,-0.1,-0.2,-0.3,-0.4,-0.5,-0.6,-0.7,-0.8],"format":".1f","grid":false,"title":"Enrichment score (ES)","titleFontSize":6.5,"titleFontWeight":"normal","titleColor":"#444","titlePadding":3,"labelFontSize":6.5,"labelColor":"#444","labelPadding":1,"tickSize":2,"tickColor":"#999","domainColor":"#bbb"}},"color":{"datum":"Enrichment profile","scale":{"domain":["Enrichment profile","Hits","Ranking metric scores"],"range":["#33e633","#333333","#cccccc"]},"legend":{"orient":"none","legendX":190,"legendY":1011,"title":null,"direction":"horizontal","columns":3,"padding":2,"strokeColor":"#333","fillColor":"#fff","labelFontSize":7.5,"labelColor":"#333","symbolType":"stroke","symbolSize":120,"symbolStrokeWidth":1.4,"columnPadding":4}}}},
{"mark":{"type":"rule","color":"#bbbbbb"},"encoding":{"x":{"datum":0},"x2":{"datum":234.5},"y":{"datum":0}}}
]},
{"data":{"values":[{"r":172},{"r":173},{"r":177},{"r":178},{"r":186},{"r":196},{"r":198},{"r":201},{"r":204},{"r":210},{"r":211},{"r":213},{"r":217},{"r":218},{"r":222}]},"mark":{"type":"rule","color":"#222222","opacity":0.85,"strokeWidth":1.2},"encoding":{"x":{"field":"r","type":"quantitative","scale":{"domain":[0,234.5],"range":[180,442],"nice":false,"zero":false},"axis":null},"y":{"datum":0,"scale":{"domain":[0,1],"range":[907,872]},"axis":null},"y2":{"datum":1}}},
{"data":{"name":"cbar"},"mark":"rect","encoding":{"x":{"field":"a","type":"quantitative","scale":{"domain":[0,234.5],"range":[180,442],"nice":false,"zero":false},"axis":null},"x2":{"field":"b"},"y":{"datum":0,"scale":{"domain":[0,1],"range":[916,907]},"axis":null},"y2":{"datum":1},"color":{"field":"l","type":"nominal","scale":{"domain":["1","2","3","4","5","6","7","8"],"range":["#cc0000","#e53535","#ff4a4a","#ff6677","#ff8585","#ffb3dd","#6a4ddd","#2a00b5"]},"legend":null}}},
{"layer":[
{"data":{"values":[{"r":0,"m":1.1},{"r":10,"m":0.9},{"r":20,"m":0.78},{"r":30,"m":0.7},{"r":45,"m":0.6},{"r":63,"m":0.52},{"r":80,"m":0.48},{"r":100,"m":0.42},{"r":122,"m":0.33},{"r":140,"m":0.22},{"r":155,"m":0.12},{"r":164,"m":0.05},{"r":165,"m":-0.02},{"r":167,"m":-0.25},{"r":175,"m":-0.33},{"r":190,"m":-0.42},{"r":205,"m":-0.5},{"r":215,"m":-0.58},{"r":222,"m":-0.75}]},"mark":{"type":"area","color":"#d9d9d9"},"encoding":{"x":{"field":"r","type":"quantitative","scale":{"domain":[0,234.5],"range":[180,442],"nice":false,"zero":false},"axis":{"orient":"bottom","offset":-526,"zindex":1,"labelFlush":false,"values":[0,25,50,75,100,125,150,175,200,225],"grid":false,"title":"Rank in Ordered Dataset","titleFontSize":7.5,"titleFontWeight":"normal","titleColor":"#333","titlePadding":2,"labelFontSize":6.5,"labelColor":"#444","labelPadding":1,"tickSize":2,"tickColor":"#999","domainColor":"#bbb"}},"y":{"field":"m","type":"quantitative","stack":null,"scale":{"domain":[-0.83,1.22],"range":[985,916],"nice":false,"zero":false},"axis":{"orient":"left","offset":-180,"zindex":1,"values":[1,0.5,0,-0.5],"format":".1f","grid":false,"title":"Ranked list metric (Signal2Noise)","titleFontSize":6.5,"titleFontWeight":"normal","titleColor":"#444","titlePadding":3,"labelFontSize":6.5,"labelColor":"#444","labelPadding":1,"tickSize":2,"tickColor":"#999","domainColor":"#bbb"}}}},
{"mark":{"type":"text","text":"Zero cross at 165","fontSize":5.5,"color":"#333"},"encoding":{"x":{"datum":165},"y":{"datum":0.18}}},
{"mark":{"type":"text","text":"'high' (positively correlated)","fontSize":6,"align":"left","color":"#ee4455"},"encoding":{"x":{"datum":2},"y":{"datum":1.12}}},
{"mark":{"type":"text","text":"'low' (negatively correlated)","fontSize":6,"color":"#3333ee"},"encoding":{"x":{"datum":160},"y":{"datum":-0.7}}}
]},

{"layer":[
{"data":{"values":[{"r":0,"es":0},{"r":2,"es":0.05},{"r":5,"es":0.13},{"r":7,"es":0.14},{"r":9,"es":0.2},{"r":11,"es":0.2},{"r":13,"es":0.26},{"r":15,"es":0.32},{"r":17,"es":0.45},{"r":19,"es":0.6},{"r":21,"es":0.62},{"r":24,"es":0.73},{"r":28,"es":0.72},{"r":32,"es":0.81},{"r":38,"es":0.78},{"r":40,"es":0.825},{"r":75,"es":0.65},{"r":110,"es":0.49},{"r":112,"es":0.515},{"r":160,"es":0.285},{"r":163,"es":0.28},{"r":222,"es":0}]},"mark":{"type":"line","strokeWidth":2},"encoding":{"x":{"field":"r","type":"quantitative","scale":{"domain":[0,233.7],"range":[717.3,967.7],"nice":false,"zero":false},"axis":null},"y":{"field":"es","type":"quantitative","scale":{"domain":[-0.05,0.872],"range":[871.7,765],"nice":false,"zero":false},"axis":{"orient":"left","offset":-717.3,"zindex":1,"values":[0,0.1,0.2,0.3,0.4,0.5,0.6,0.7,0.8],"format":".1f","grid":false,"title":"Enrichment score (ES)","titleFontSize":6.5,"titleFontWeight":"normal","titleColor":"#444","titlePadding":3,"labelFontSize":6.5,"labelColor":"#444","labelPadding":1,"tickSize":2,"tickColor":"#999","domainColor":"#bbb"}},"color":{"datum":"Enrichment profile","scale":{"domain":["Enrichment profile","Hits","Ranking metric scores"],"range":["#33e633","#333333","#cccccc"]},"legend":{"orient":"none","legendX":727,"legendY":1011,"title":null,"direction":"horizontal","columns":3,"padding":2,"strokeColor":"#333","fillColor":"#fff","labelFontSize":7.5,"labelColor":"#333","symbolType":"stroke","symbolSize":120,"symbolStrokeWidth":1.4,"columnPadding":4}}}},
{"mark":{"type":"rule","color":"#bbbbbb"},"encoding":{"x":{"datum":0},"x2":{"datum":233.7},"y":{"datum":0}}}
]},
{"data":{"values":[{"r":1},{"r":2},{"r":4},{"r":6},{"r":8},{"r":10},{"r":13},{"r":14},{"r":15},{"r":16},{"r":17},{"r":18},{"r":19},{"r":20},{"r":22},{"r":24},{"r":25},{"r":31},{"r":33},{"r":40},{"r":112},{"r":163}]},"mark":{"type":"rule","color":"#333333","opacity":0.6},"encoding":{"x":{"field":"r","type":"quantitative","scale":{"domain":[0,233.7],"range":[717.3,967.7],"nice":false,"zero":false},"axis":null},"y":{"datum":0,"scale":{"domain":[0,1],"range":[907,872]},"axis":null},"y2":{"datum":1}}},
{"data":{"name":"cbar"},"mark":"rect","encoding":{"x":{"field":"a","type":"quantitative","scale":{"domain":[0,233.7],"range":[717.3,967.7],"nice":false,"zero":false},"axis":null},"x2":{"field":"b"},"y":{"datum":0,"scale":{"domain":[0,1],"range":[916.7,907]},"axis":null},"y2":{"datum":1},"color":{"field":"l","type":"nominal","scale":{"domain":["1","2","3","4","5","6","7","8"],"range":["#cc0000","#e53535","#ff4a4a","#ff6677","#ff8585","#ffb3dd","#6a4ddd","#2a00b5"]},"legend":null}}},
{"layer":[
{"data":{"values":[{"r":0,"m":1.1},{"r":8,"m":0.95},{"r":20,"m":0.8},{"r":35,"m":0.7},{"r":50,"m":0.58},{"r":63,"m":0.52},{"r":85,"m":0.47},{"r":110,"m":0.41},{"r":130,"m":0.33},{"r":145,"m":0.23},{"r":155,"m":0.13},{"r":163,"m":0.05},{"r":164,"m":-0.02},{"r":166,"m":-0.25},{"r":180,"m":-0.38},{"r":195,"m":-0.47},{"r":210,"m":-0.57},{"r":222,"m":-0.75}]},"mark":{"type":"area","color":"#d9d9d9"},"encoding":{"x":{"field":"r","type":"quantitative","scale":{"domain":[0,233.7],"range":[717.3,967.7],"nice":false,"zero":false},"axis":{"orient":"bottom","offset":-523.7,"zindex":1,"labelFlush":false,"values":[0,25,50,75,100,125,150,175,200,225],"grid":false,"title":"Rank in Ordered Dataset","titleFontSize":7.5,"titleFontWeight":"normal","titleColor":"#333","titlePadding":2,"labelFontSize":6.5,"labelColor":"#444","labelPadding":1,"tickSize":2,"tickColor":"#999","domainColor":"#bbb"}},"y":{"field":"m","type":"quantitative","stack":null,"scale":{"domain":[-0.825,1.21],"range":[987.3,916.7],"nice":false,"zero":false},"axis":{"orient":"left","offset":-717.3,"zindex":1,"values":[1,0.5,0,-0.5],"format":".1f","grid":false,"title":"Ranked list metric (Signal2Noise)","titleFontSize":6.5,"titleFontWeight":"normal","titleColor":"#444","titlePadding":3,"labelFontSize":6.5,"labelColor":"#444","labelPadding":1,"tickSize":2,"tickColor":"#999","domainColor":"#bbb"}}}},
{"mark":{"type":"text","text":"Zero cross at 165","fontSize":5.5,"color":"#333"},"encoding":{"x":{"datum":166},"y":{"datum":0.18}}},
{"mark":{"type":"text","text":"'high' (positively correlated)","fontSize":6,"align":"left","color":"#ee4455"},"encoding":{"x":{"datum":2},"y":{"datum":1.12}}},
{"mark":{"type":"text","text":"'low' (negatively correlated)","fontSize":6,"color":"#3333ee"},"encoding":{"x":{"datum":158},"y":{"datum":-0.7}}}
]},

{"layer":[
{"data":{"values":[{"r":0,"es":0},{"r":3,"es":0.1},{"r":5,"es":0.14},{"r":8,"es":0.22},{"r":11,"es":0.31},{"r":15,"es":0.3},{"r":18,"es":0.37},{"r":23,"es":0.39},{"r":27,"es":0.48},{"r":32,"es":0.54},{"r":36,"es":0.52},{"r":40,"es":0.56},{"r":45,"es":0.63},{"r":49,"es":0.61},{"r":53,"es":0.63},{"r":58,"es":0.6},{"r":60,"es":0.605},{"r":65,"es":0.59},{"r":70,"es":0.615},{"r":80,"es":0.62},{"r":85,"es":0.61},{"r":92,"es":0.56},{"r":96,"es":0.575},{"r":108,"es":0.51},{"r":112,"es":0.51},{"r":117,"es":0.49},{"r":127,"es":0.43},{"r":131,"es":0.43},{"r":140,"es":0.38},{"r":145,"es":0.365},{"r":148,"es":0.365},{"r":155,"es":0.33},{"r":165,"es":0.3},{"r":175,"es":0.27},{"r":185,"es":0.2},{"r":205,"es":0.085},{"r":208,"es":0.09},{"r":222,"es":0}]},"mark":{"type":"line","strokeWidth":2},"encoding":{"x":{"field":"r","type":"quantitative","scale":{"domain":[0,233.7],"range":[1267.3,1509.3],"nice":false,"zero":false},"axis":null},"y":{"field":"es","type":"quantitative","scale":{"domain":[-0.04,0.664],"range":[871.7,761.7],"nice":false,"zero":false},"axis":{"orient":"left","offset":-1267.3,"zindex":1,"values":[0,0.1,0.2,0.3,0.4,0.5,0.6],"format":".1f","grid":false,"title":"Enrichment score (ES)","titleFontSize":6.5,"titleFontWeight":"normal","titleColor":"#444","titlePadding":3,"labelFontSize":6.5,"labelColor":"#444","labelPadding":1,"tickSize":2,"tickColor":"#999","domainColor":"#bbb"}},"color":{"datum":"Enrichment profile","scale":{"domain":["Enrichment profile","Hits","Ranking metric scores"],"range":["#33e633","#333333","#cccccc"]},"legend":{"orient":"none","legendX":1273,"legendY":1013,"title":null,"direction":"horizontal","columns":3,"padding":2,"strokeColor":"#333","fillColor":"#fff","labelFontSize":7.5,"labelColor":"#333","symbolType":"stroke","symbolSize":120,"symbolStrokeWidth":1.4,"columnPadding":4}}}},
{"mark":{"type":"rule","color":"#bbbbbb"},"encoding":{"x":{"datum":0},"x2":{"datum":233.7},"y":{"datum":0}}}
]},
{"data":{"values":[{"r":1},{"r":2},{"r":3},{"r":4},{"r":5},{"r":6},{"r":7},{"r":8},{"r":9},{"r":10},{"r":11},{"r":12},{"r":13},{"r":17},{"r":18},{"r":19},{"r":20},{"r":24},{"r":25},{"r":26},{"r":27},{"r":28},{"r":30},{"r":31},{"r":36},{"r":37},{"r":41},{"r":42},{"r":43},{"r":44},{"r":45},{"r":50},{"r":53},{"r":60},{"r":66},{"r":67},{"r":68},{"r":69},{"r":70},{"r":71},{"r":72},{"r":73},{"r":74},{"r":75},{"r":76},{"r":77},{"r":78},{"r":82},{"r":95},{"r":96},{"r":109},{"r":115},{"r":129},{"r":140},{"r":146},{"r":148},{"r":155},{"r":160},{"r":162},{"r":165},{"r":170},{"r":207}]},"mark":{"type":"rule","color":"#444444","opacity":0.55},"encoding":{"x":{"field":"r","type":"quantitative","scale":{"domain":[0,233.7],"range":[1267.3,1509.3],"nice":false,"zero":false},"axis":null},"y":{"datum":0,"scale":{"domain":[0,1],"range":[907.7,872]},"axis":null},"y2":{"datum":1}}},
{"data":{"name":"cbar"},"mark":"rect","encoding":{"x":{"field":"a","type":"quantitative","scale":{"domain":[0,233.7],"range":[1267.3,1509.3],"nice":false,"zero":false},"axis":null},"x2":{"field":"b"},"y":{"datum":0,"scale":{"domain":[0,1],"range":[917.7,907.7]},"axis":null},"y2":{"datum":1},"color":{"field":"l","type":"nominal","scale":{"domain":["1","2","3","4","5","6","7","8"],"range":["#cc0000","#e53535","#ff4a4a","#ff6677","#ff8585","#ffb3dd","#6a4ddd","#2a00b5"]},"legend":null}}},
{"layer":[
{"data":{"values":[{"r":0,"m":1.05},{"r":8,"m":0.92},{"r":20,"m":0.78},{"r":35,"m":0.66},{"r":50,"m":0.56},{"r":63,"m":0.52},{"r":85,"m":0.48},{"r":110,"m":0.42},{"r":130,"m":0.33},{"r":145,"m":0.23},{"r":155,"m":0.13},{"r":163,"m":0.05},{"r":164,"m":-0.02},{"r":166,"m":-0.22},{"r":180,"m":-0.36},{"r":195,"m":-0.45},{"r":210,"m":-0.55},{"r":219,"m":-0.62},{"r":222,"m":-0.75}]},"mark":{"type":"area","color":"#d9d9d9"},"encoding":{"x":{"field":"r","type":"quantitative","scale":{"domain":[0,233.7],"range":[1267.3,1509.3],"nice":false,"zero":false},"axis":{"orient":"bottom","offset":-520.3,"zindex":1,"labelFlush":false,"values":[0,25,50,75,100,125,150,175,200,225],"grid":false,"title":"Rank in Ordered Dataset","titleFontSize":7.5,"titleFontWeight":"normal","titleColor":"#333","titlePadding":2,"labelFontSize":6.5,"labelColor":"#444","labelPadding":1,"tickSize":2,"tickColor":"#999","domainColor":"#bbb"}},"y":{"field":"m","type":"quantitative","stack":null,"scale":{"domain":[-0.78,1.2],"range":[990.7,917.7],"nice":false,"zero":false},"axis":{"orient":"left","offset":-1267.3,"zindex":1,"values":[1,0.75,0.5,0.25,0,-0.25,-0.5,-0.75],"format":".2f","grid":false,"title":"Ranked list metric (Signal2Noise)","titleFontSize":6.5,"titleFontWeight":"normal","titleColor":"#444","titlePadding":3,"labelFontSize":6,"labelColor":"#444","labelPadding":1,"tickSize":2,"tickColor":"#999","domainColor":"#bbb"}}}},
{"mark":{"type":"text","text":"Zero cross at 165","fontSize":5.5,"color":"#333"},"encoding":{"x":{"datum":163},"y":{"datum":0.2}}},
{"mark":{"type":"text","text":"'high' (positively correlated)","fontSize":6,"align":"left","color":"#ee4455"},"encoding":{"x":{"datum":2},"y":{"datum":1.1}}},
{"mark":{"type":"text","text":"'low' (negatively correlated)","fontSize":6,"color":"#3333ee"},"encoding":{"x":{"datum":160},"y":{"datum":-0.68}}}
]},

{"data":{"values":[{"g":"Low"},{"g":"High"}]},"mark":"rect","encoding":{"x":{"field":"g","type":"nominal","scale":{"domain":["Low","High"],"range":[167,436],"paddingInner":0,"paddingOuter":0},"axis":{"orient":"top","offset":-1068,"title":null,"domain":false,"ticks":false,"labelAngle":0,"labelFontSize":13.5,"labelColor":"#222","labelPadding":4,"grid":false}},"y":{"datum":0,"scale":{"domain":[0,1],"range":[1089,1068]},"axis":null},"y2":{"datum":1},"color":{"field":"g","type":"nominal","scale":{"domain":["Low","High"],"range":["#5533aa","#ff2200"]},"legend":null}}},
{"data":{"values":[{"g":"Low","v":0.3},{"g":"High","v":-1.9}]},"mark":"rect","encoding":{"x":{"field":"g","type":"nominal","scale":{"domain":["Low","High"],"range":[167,436],"paddingInner":0,"paddingOuter":0},"axis":null},"y":{"datum":0,"scale":{"domain":[0,1],"range":[1502.7,1090.7]},"axis":null},"y2":{"datum":1},"color":{"field":"v","type":"quantitative","scale":{"domain":[-6,0,6],"range":["#8e2de2","#000000","#ffd700"],"interpolate":"rgb"},"legend":null}}},
{"data":{"name":"cC"},"mark":{"type":"rect","width":6.73,"height":27.47},"encoding":{"x":{"field":"c","type":"quantitative","scale":{"domain":[-0.5,39.5],"range":[167,436],"nice":false,"zero":false},"axis":null},"y":{"field":"r","type":"quantitative","scale":{"domain":[-0.5,14.5],"range":[1090.7,1502.7],"nice":false,"zero":false},"axis":{"orient":"right","offset":-1214,"values":[0,1,2,3,4,5,6,7,8,9,10,11,12,13,14],"labelExpr":"['SRD5A1','MASP2','SERPINA10','CYP4F11','AKR7A3','LDHD','OGDHL','CIDEB','GLYATL1','SERPING1','C6','HSD17B6','COL18A1','F12','TFR2'][datum.value]","title":null,"domain":false,"ticks":false,"grid":false,"labelFontSize":12,"labelColor":"#555","labelPadding":3,"labelOverlap":false}},"color":{"field":"v","type":"quantitative","scale":{"domain":[-6,0,6],"range":["#8e2de2","#000000","#ffd700"],"interpolate":"rgb"},"legend":null}}},
{"data":{"name":"tC"},"encoding":{"x":{"field":"h","type":"quantitative","scale":{"domain":[0,100],"range":[167,67],"nice":false,"zero":false},"axis":null}},"layer":[
{"mark":{"type":"rule","color":"#666","strokeWidth":1},"encoding":{"y":{"field":"a","type":"quantitative","scale":{"domain":[-0.5,14.5],"range":[1090.7,1502.7],"nice":false,"zero":false},"axis":null},"y2":{"field":"b"}}},
{"mark":{"type":"rule","color":"#777","strokeWidth":1},"encoding":{"x2":{"field":"ha"},"y":{"field":"a","type":"quantitative","scale":{"domain":[-0.5,14.5],"range":[1090.7,1502.7],"nice":false,"zero":false},"axis":null}}},
{"mark":{"type":"rule","color":"#777","strokeWidth":1},"encoding":{"x2":{"field":"hb"},"y":{"field":"b","type":"quantitative","scale":{"domain":[-0.5,14.5],"range":[1090.7,1502.7],"nice":false,"zero":false},"axis":null}}}
]},

{"data":{"values":[{"g":"Low"},{"g":"High"}]},"mark":"rect","encoding":{"x":{"field":"g","type":"nominal","scale":{"domain":["Low","High"],"range":[700.7,969.3],"paddingInner":0,"paddingOuter":0},"axis":{"orient":"top","offset":-1068,"title":null,"domain":false,"ticks":false,"labelAngle":0,"labelFontSize":13.5,"labelColor":"#222","labelPadding":4,"grid":false}},"y":{"datum":0,"scale":{"domain":[0,1],"range":[1089,1068]},"axis":null},"y2":{"datum":1},"color":{"field":"g","type":"nominal","scale":{"domain":["Low","High"],"range":["#5533aa","#ff2200"]},"legend":null}}},
{"data":{"values":[{"g":"Low","v":-1.9},{"g":"High","v":0.3}]},"mark":"rect","encoding":{"x":{"field":"g","type":"nominal","scale":{"domain":["Low","High"],"range":[700.7,969.3],"paddingInner":0,"paddingOuter":0},"axis":null},"y":{"datum":0,"scale":{"domain":[0,1],"range":[1475.7,1091]},"axis":null},"y2":{"datum":1},"color":{"field":"v","type":"quantitative","scale":{"domain":[-6,0,6],"range":["#8e2de2","#000000","#ffd700"],"interpolate":"rgb"},"legend":null}}},
{"data":{"name":"cD"},"mark":{"type":"rect","width":6.72,"height":22.63},"encoding":{"x":{"field":"c","type":"quantitative","scale":{"domain":[-0.5,39.5],"range":[700.7,969.3],"nice":false,"zero":false},"axis":null},"y":{"field":"r","type":"quantitative","scale":{"domain":[-0.5,16.5],"range":[1091,1475.7],"nice":false,"zero":false},"axis":{"orient":"right","offset":-680.7,"values":[0,1,2,3,4,5,6,7,8,9,10,11,12,13,14,15,16],"labelExpr":"['UBE2C','MYBL2','CDC20','CCNB1','TOP2A','HMGB2','H2AFX','MCM6','MCM2','NCAPD2','FOXM1','CCT6A','PSMD14','H2AFZ','KPNA2','PCNA','MCM3'][datum.value]","title":null,"domain":false,"ticks":false,"grid":false,"labelFontSize":12,"labelColor":"#555","labelPadding":3,"labelOffset":2,"labelOverlap":false}},"color":{"field":"v","type":"quantitative","scale":{"domain":[-6,0,6],"range":["#8e2de2","#000000","#ffd700"],"interpolate":"rgb"},"legend":null}}},
{"data":{"name":"tD"},"encoding":{"x":{"field":"h","type":"quantitative","scale":{"domain":[0,100],"range":[700.7,600.7],"nice":false,"zero":false},"axis":null}},"layer":[
{"mark":{"type":"rule","color":"#666","strokeWidth":1},"encoding":{"y":{"field":"a","type":"quantitative","scale":{"domain":[-0.5,16.5],"range":[1091,1475.7],"nice":false,"zero":false},"axis":null},"y2":{"field":"b"}}},
{"mark":{"type":"rule","color":"#777","strokeWidth":1},"encoding":{"x2":{"field":"ha"},"y":{"field":"a","type":"quantitative","scale":{"domain":[-0.5,16.5],"range":[1091,1475.7],"nice":false,"zero":false},"axis":null}}},
{"mark":{"type":"rule","color":"#777","strokeWidth":1},"encoding":{"x2":{"field":"hb"},"y":{"field":"b","type":"quantitative","scale":{"domain":[-0.5,16.5],"range":[1091,1475.7],"nice":false,"zero":false},"axis":null}}}
]},

{"data":{"values":[{"g":"Low"},{"g":"High"}]},"mark":"rect","encoding":{"x":{"field":"g","type":"nominal","scale":{"domain":["Low","High"],"range":[1240.7,1510],"paddingInner":0,"paddingOuter":0},"axis":{"orient":"top","offset":-1068,"title":null,"domain":false,"ticks":false,"labelAngle":0,"labelFontSize":13.5,"labelColor":"#222","labelPadding":4,"grid":false}},"y":{"datum":0,"scale":{"domain":[0,1],"range":[1089,1068]},"axis":null},"y2":{"datum":1},"color":{"field":"g","type":"nominal","scale":{"domain":["Low","High"],"range":["#5533aa","#ff2200"]},"legend":null}}},
{"data":{"values":[{"g":"Low","v":-1.9},{"g":"High","v":0.3}]},"mark":"rect","encoding":{"x":{"field":"g","type":"nominal","scale":{"domain":["Low","High"],"range":[1240.7,1510],"paddingInner":0,"paddingOuter":0},"axis":null},"y":{"datum":0,"scale":{"domain":[0,1],"range":[1479,1092.7]},"axis":null},"y2":{"datum":1},"color":{"field":"v","type":"quantitative","scale":{"domain":[-6,0,6],"range":["#8e2de2","#000000","#ffd700"],"interpolate":"rgb"},"legend":{"orient":"none","legendX":1613,"legendY":1085,"title":null,"values":[-6,-4,-2,0,2,4,6],"gradientLength":212,"gradientThickness":13,"labelFontSize":14,"labelColor":"#333","labelOffset":5}}}},
{"data":{"name":"cE"},"mark":{"type":"rect","width":6.73,"height":13.32},"encoding":{"x":{"field":"c","type":"quantitative","scale":{"domain":[-0.5,39.5],"range":[1240.7,1510],"nice":false,"zero":false},"axis":null},"y":{"field":"r","type":"quantitative","scale":{"domain":[-0.5,28.5],"range":[1092.7,1479],"nice":false,"zero":false},"axis":{"orient":"right","offset":-140,"values":[0,1,2,3,4,5,6,7,8,9,10,11,12,13,14,15,16,17,18,19,20,21,22,23,24,25,26,27,28],"labelExpr":"['NPM1','E2F1','UBE2C','MYBL2','CDC20','CCNB1','H2AFX','MCM4','RRM2','LMNB1','TYMS','FEN1','MCM6','MCM2','TFDP1','TUBG1','CKAP5','PSMD14','BUB3','H2AFZ','CDK4','HDAC1','RBBP7','PPP1CC','ANAPC5','CDC25B','MCM5','PCNA','MCM3'][datum.value]","title":null,"domain":false,"ticks":false,"grid":false,"labelFontSize":11.5,"labelColor":"#555","labelPadding":3,"labelOffset":1,"labelOverlap":false}},"color":{"field":"v","type":"quantitative","scale":{"domain":[-6,0,6],"range":["#8e2de2","#000000","#ffd700"],"interpolate":"rgb"},"legend":null}}},
{"data":{"name":"tE"},"encoding":{"x":{"field":"h","type":"quantitative","scale":{"domain":[0,100],"range":[1240.7,1140.7],"nice":false,"zero":false},"axis":null}},"layer":[
{"mark":{"type":"rule","color":"#666","strokeWidth":1},"encoding":{"y":{"field":"a","type":"quantitative","scale":{"domain":[-0.5,28.5],"range":[1092.7,1479],"nice":false,"zero":false},"axis":null},"y2":{"field":"b"}}},
{"mark":{"type":"rule","color":"#777","strokeWidth":1},"encoding":{"x2":{"field":"ha"},"y":{"field":"a","type":"quantitative","scale":{"domain":[-0.5,28.5],"range":[1092.7,1479],"nice":false,"zero":false},"axis":null}}},
{"mark":{"type":"rule","color":"#777","strokeWidth":1},"encoding":{"x2":{"field":"hb"},"y":{"field":"b","type":"quantitative","scale":{"domain":[-0.5,28.5],"range":[1092.7,1479],"nice":false,"zero":false},"axis":null}}}
]}
]}
